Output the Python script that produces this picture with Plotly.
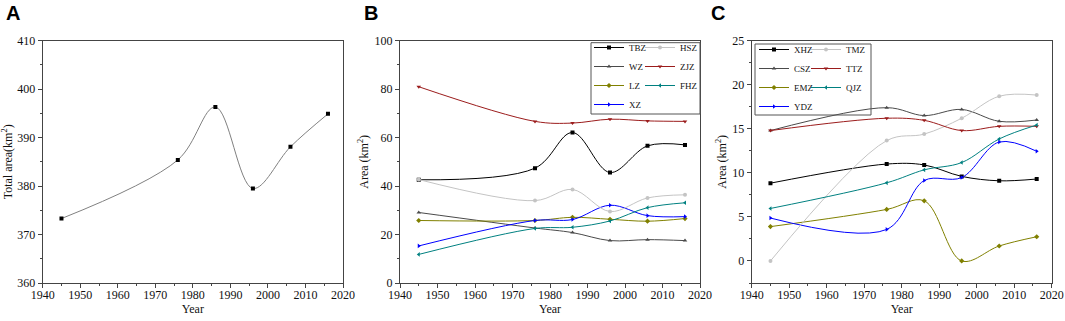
import plotly.graph_objects as go

W, H = 1065, 321

# ---------------- data ----------------
years = [1945, 1976, 1986, 1996, 2006, 2016]

total_area = [373.3, 385.4, 396.3, 379.5, 388.1, 394.9]

# Panel B
TBZ = [42.6, 47.4, 62.1, 45.6, 56.6, 57.0]
WZ = [29.1, 22.7, 20.8, 17.5, 17.9, 17.5]
LZ = [25.8, 25.8, 27.1, 26.3, 25.5, 26.6]
XZ = [15.3, 25.8, 26.2, 32.1, 27.8, 27.4]
HSZ = [42.7, 34.0, 38.6, 29.5, 35.1, 36.4]
ZJZ = [81.0, 66.7, 66.0, 67.6, 66.9, 66.7]
FHZ = [11.8, 22.5, 23.0, 25.6, 31.1, 33.1]

# Panel C
XHZ = [8.83, 11.0, 10.9, 9.6, 9.1, 9.3]
CSZ = [14.8, 17.4, 16.5, 17.2, 15.85, 16.0]
EMZ = [3.9, 5.85, 6.83, 0.0, 1.7, 2.75]
YDZ = [4.87, 3.58, 9.13, 9.47, 13.5, 12.45]
TMZ = [0.0, 13.66, 14.4, 16.2, 18.7, 18.83]
TTZ = [14.8, 16.2, 15.96, 14.8, 15.28, 15.28]
QJZ = [5.96, 8.87, 10.34, 11.17, 13.85, 15.43]

x_ticks = [1940, 1950, 1960, 1970, 1980, 1990, 2000, 2010, 2020]

# ---------------- styles ----------------
BLACK = "#000000"
DGRAY = "#4a4a4a"
OLIVE = "#808000"
BLUE = "#0000ff"
LGRAY = "#c4c4c4"
WINE = "#9b1c1c"
TEAL = "#008080"
AXC = "#444444"
SERIF = "Liberation Serif"
TXT = "#111111"

fig = go.Figure()


def add(x, y, name, color, symbol, xa, ya, legend, showlegend=True, lc=None):
    fig.add_trace(go.Scatter(
        x=x, y=y, name=name, mode="lines+markers",
        line=dict(color=lc or color, width=1, shape="spline", smoothing=1.0),
        marker=dict(color=color, symbol=symbol, size=4, line=dict(width=0)),
        xaxis=xa, yaxis=ya, legend=legend, showlegend=showlegend))


# Panel A
add(years, total_area, "Total", BLACK, "square", "x", "y", "legend",
    showlegend=False, lc="#808080")

# Panel B (column 1 -> legend, column 2 -> legend2)
add(years, TBZ, "TBZ", BLACK, "square", "x2", "y2", "legend")
add(years, WZ, "WZ", DGRAY, "triangle-up", "x2", "y2", "legend")
add(years, LZ, "LZ", OLIVE, "diamond", "x2", "y2", "legend")
add(years, XZ, "XZ", BLUE, "triangle-right", "x2", "y2", "legend")
add(years, HSZ, "HSZ", LGRAY, "circle", "x2", "y2", "legend2")
add(years, ZJZ, "ZJZ", WINE, "triangle-down", "x2", "y2", "legend2")
add(years, FHZ, "FHZ", TEAL, "triangle-left", "x2", "y2", "legend2")

# Panel C (column 1 -> legend3, column 2 -> legend4)
add(years, XHZ, "XHZ", BLACK, "square", "x3", "y3", "legend3")
add(years, CSZ, "CSZ", DGRAY, "triangle-up", "x3", "y3", "legend3")
add(years, EMZ, "EMZ", OLIVE, "diamond", "x3", "y3", "legend3")
add(years, YDZ, "YDZ", BLUE, "triangle-right", "x3", "y3", "legend3")
add(years, TMZ, "TMZ", LGRAY, "circle", "x3", "y3", "legend4")
add(years, TTZ, "TTZ", WINE, "triangle-down", "x3", "y3", "legend4")
add(years, QJZ, "QJZ", TEAL, "triangle-left", "x3", "y3", "legend4")


# ---------------- layout ----------------
# helpers: convert pixel positions to paper fractions
def px(v):
    return v / W


def py(v):
    return 1 - v / H


ydom = [py(283), py(40.7)]
xdoms = [[px(42.7), px(343)], [px(400), px(700)], [px(751.7), px(1051.7)]]

common_axis = dict(
    showline=True, linecolor=AXC, linewidth=1, mirror=True,
    ticks="outside", ticklen=4, tickwidth=1, tickcolor=AXC,
    showgrid=False, zeroline=False,
    tickfont=dict(family=SERIF, size=12, color=TXT),
)


def xaxis(dom, anchor):
    return dict(common_axis, domain=dom, anchor=anchor, range=[1940, 2020],
                tickmode="array", tickvals=x_ticks, ticklabelstandoff=-3,
                minor=dict(dtick=5, ticks="outside", ticklen=2, tickcolor=AXC, showgrid=False),
                title=dict(text="Year", font=dict(family=SERIF, size=12, color=TXT), standoff=1))


def yaxis(anchor, rng, dtick, mdt, title):
    return dict(common_axis, domain=ydom, anchor=anchor, range=rng, dtick=dtick, tick0=0,
                minor=dict(dtick=mdt, tick0=0, ticks="outside", ticklen=2, tickcolor=AXC, showgrid=False),
                title=dict(text=title, font=dict(family=SERIF, size=12, color=TXT), standoff=3))


leg_common = dict(font=dict(family=SERIF, size=9, color=TXT), bgcolor="rgba(0,0,0,0)",
                  borderwidth=0, xanchor="left", yanchor="top", itemwidth=30,
                  tracegroupgap=0, orientation="v")

fig.update_layout(
    width=W, height=H, margin=dict(l=0, r=0, t=0, b=0, autoexpand=False),
    paper_bgcolor="white", plot_bgcolor="white",
    font=dict(family=SERIF, color=TXT),
    xaxis=xaxis(xdoms[0], "y"),
    xaxis2=xaxis(xdoms[1], "y2"),
    xaxis3=xaxis(xdoms[2], "y3"),
    yaxis=yaxis("x", [360, 410], 10, 5, "Total area(km<sup>2</sup>)"),
    yaxis2=yaxis("x2", [0, 100], 20, 10, "Area (km<sup>2</sup>)"),
    yaxis3=yaxis("x3", [-2.5, 25], 5, 2.5, "Area (km<sup>2</sup>)"),
    legend=dict(leg_common, x=px(589), y=py(33)),
    legend2=dict(leg_common, x=px(640), y=py(33)),
    legend3=dict(leg_common, x=px(754), y=py(35)),
    legend4=dict(leg_common, x=px(806), y=py(35)),
    showlegend=True,
)

# legend frames
fig.add_shape(type="rect", xref="paper", yref="paper",
              x0=px(591), x1=px(700), y0=py(114), y1=py(42.7),
              line=dict(color="#555555", width=1), fillcolor="rgba(0,0,0,0)")
fig.add_shape(type="rect", xref="paper", yref="paper",
              x0=px(755), x1=px(871), y0=py(115), y1=py(44),
              line=dict(color="#555555", width=1), fillcolor="rgba(0,0,0,0)")

# panel letters
for letter, xpos in [("A", 4), ("B", 362), ("C", 709)]:
    fig.add_annotation(text="<b>%s</b>" % letter, xref="paper", yref="paper",
                       x=px(xpos), y=py(0), xanchor="left", yanchor="top",
                       showarrow=False,
                       font=dict(family="Liberation Sans", size=20, color="#000000"))

# remove the default 8px body margin so the figure fills the window exactly
fig.write_html("out.html", config={"displayModeBar": False},
               post_script="document.body.style.margin='0';")
